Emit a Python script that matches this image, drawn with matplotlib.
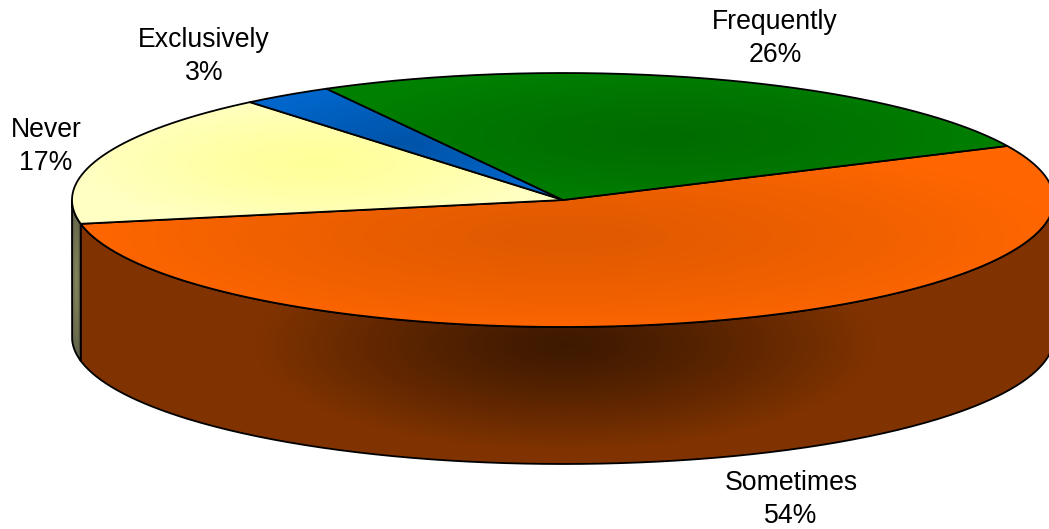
import numpy as np
import matplotlib
matplotlib.use("Agg")
import matplotlib.pyplot as plt
from matplotlib.path import Path
from matplotlib.patches import PathPatch

plt.rcParams['font.family'] = ['Liberation Sans', 'DejaVu Sans']

# Data, clockwise from the right-hand edge of the pie
categories = ["Sometimes", "Never", "Exclusively", "Frequently"]
values = [54, 17, 3, 26]
top_centre = ["#E05A00", "#FFFF99", "#0055AA", "#006C00"]
top_edge = ["#FF6600", "#FFFFC4", "#0066CC", "#008000"]
wall_centre = ["#3E1900", "#84845A"]
wall_edge = ["#803300", "#5E5E48"]
label_pos = [(791, 499.5), (46, 146.5), (204, 56.5), (775, 38.5)]

START = 25.2
CX, CY, RX, RY, DEPTH = 563, 200, 491, 127, 137
W, H = 1049, 529

fig = plt.figure(figsize=(W / 100, H / 100), dpi=100)
ax = fig.add_axes([0, 0, 1, 1])
ax.set_xlim(0, W)
ax.set_ylim(H, 0)
ax.axis("off")

xx, yy = np.meshgrid(np.arange(W) + 0.5, np.arange(H) + 0.5)


def rgb(c):
    return np.array(matplotlib.colors.to_rgb(c))


def fill(path, c0, c1, cx, cy, sx, sy, z, power=1.3):
    t = np.clip(np.hypot((xx - cx) / sx, (yy - cy) / sy), 0, 1)[..., None] ** power
    img = rgb(c0) * (1 - t) + rgb(c1) * t
    im = ax.imshow(img, extent=(0, W, H, 0), origin="upper", zorder=z,
                   interpolation="bilinear", aspect="auto")
    patch = PathPatch(path, fc="none", ec="black", lw=1.3, zorder=z + 0.5,
                      joinstyle="round")
    ax.add_patch(patch)
    im.set_clip_path(patch)


def ell(a, dy=0.0):
    r = np.radians(a)
    return np.column_stack((CX + RX * np.cos(r), CY - RY * np.sin(r) + dy))


fracs = np.array(values) / sum(values) * 360
ends = START - np.cumsum(fracs)
starts = ends + fracs

# side walls
wall_i = 0
for s, e in zip(starts, ends):
    lo, hi = max(e, -180), min(s, 0)
    if lo >= hi:
        continue
    a = np.linspace(hi, lo, 300)
    pts = np.vstack((ell(a), ell(a[::-1], DEPTH), ell(a[:1])))
    path = Path(pts)
    if wall_i == 0:
        fill(path, wall_centre[0], wall_edge[0], CX + 2, 345, 310, 105, 1, power=1.25)
    else:
        x0, y0 = pts.min(axis=0)
        x1, y1 = pts.max(axis=0)
        fill(path, wall_centre[1], wall_edge[1], (x0 + x1) / 2, (y0 + y1) / 2,
             (x1 - x0) / 2, (y1 - y0) / 2, 1 + wall_i)
    wall_i += 1

# top face
for i, (s, e) in enumerate(zip(starts, ends)):
    a = np.linspace(s, e, 300)
    pts = np.vstack(([[CX, CY]], ell(a), [[CX, CY]]))
    x0, y0 = pts.min(axis=0)
    x1, y1 = pts.max(axis=0)
    fill(Path(pts), top_centre[i], top_edge[i], (x0 + x1) / 2, (y0 + y1) / 2,
         (x1 - x0) / 2, (y1 - y0) / 2 * 1.1, 10 + i)

for name, v, (x, y) in zip(categories, values, label_pos):
    ax.text(x, y, f"{name}\n{v}%", ha="center", va="center", fontsize=19.2,
            color="black", linespacing=1.37, zorder=30)

ax.set_xlim(0, W)
ax.set_ylim(H, 0)
fig.savefig("out.png", dpi=100, facecolor="white")
